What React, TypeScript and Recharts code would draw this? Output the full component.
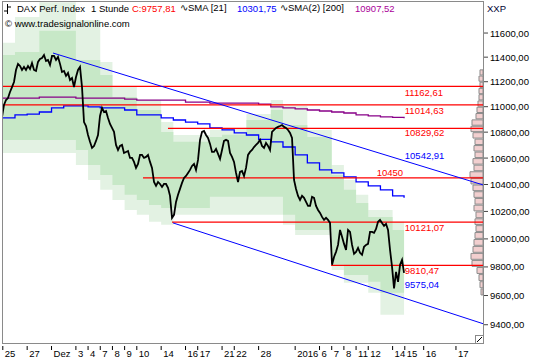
import React from "react";
import {
  ComposedChart,
  Line,
  Area,
  XAxis,
  YAxis,
  ReferenceLine,
  ReferenceArea,
  ReferenceDot,
} from "recharts";

// DAX hourly closes, one sample every ~1.4 trading hours, starting 25 Nov 2015
const closes = [
  10918, 11014, 11053, 11069, 11117, 11157, 11198, 11295, 11345, 11328,
  11295, 11320, 11295, 11328, 11303, 11352, 11295, 11287, 11361, 11385,
  11393, 11418, 11369, 11377, 11336, 11410, 11410, 11377, 11402, 11345,
  11279, 11287, 11247, 11271, 11214, 11230, 11157, 11238, 11295, 11320,
  11157, 10879, 10848, 10778, 10725, 10678, 10693, 10732, 10778, 10927,
  10990, 10958, 10966, 10911, 10864, 10833, 10802, 10701, 10662, 10693,
  10701, 10639, 10647, 10654, 10601, 10601, 10571, 10525, 10556, 10624,
  10624, 10601, 10609, 10624, 10571, 10525, 10419, 10390, 10419, 10404,
  10382, 10404, 10404, 10375, 10315, 10153, 10175, 10270, 10323, 10367,
  10412, 10449, 10464, 10487, 10510, 10540, 10556, 10510, 10586, 10740,
  10802, 10809, 10778, 10755, 10709, 10647, 10647, 10670, 10632, 10594,
  10662, 10732, 10740, 10732, 10639, 10609, 10571, 10487, 10419, 10495,
  10502, 10464, 10525, 10624, 10647, 10662, 10685, 10701, 10717, 10740,
  10693, 10678, 10717, 10693, 10662, 10802, 10817, 10833, 10841, 10848,
  10856, 10841, 10833, 10817, 10794, 10755, 10434, 10367, 10315, 10285,
  10315, 10300, 10270, 10241, 10241, 10308, 10300, 10241, 10211, 10189,
  10160, 10138, 10153, 10138, 10116, 9815, 9871, 9907, 9957, 10065,
  10015, 9964, 9921, 10065, 10051, 9957, 9893, 9907, 9935, 9900,
  9886, 9943, 9957, 9964, 10051, 10051, 10044, 10072, 10124, 10138,
  10116, 10094, 10109, 10065, 9921, 9800, 9650, 9765, 9695, 9815,
  9850, 9758,
];
const CLOSE_T0 = -0.066; // in trading days after 25 Nov
const CLOSE_STEP = 0.1642;

// daily values, one per session (last entry = end of data)
const sessions = [
  -0.066, 1, 2, 3, 4, 5, 6, 7, 8, 9, 10, 11, 12, 13, 14, 15, 16, 17, 18, 19,
  20, 21, 22, 23, 24, 25, 26, 27, 28, 29, 30, 31, 32, 32.94,
];
const sma21 = [
  10911, 10935, 10942, 10958, 10990, 11006, 11006, 10998, 10990, 10990,
  10974, 10935, 10935, 10911, 10895, 10879, 10864, 10833, 10817, 10794,
  10778, 10744, 10725, 10685, 10624, 10563, 10510, 10487, 10457, 10419,
  10390, 10360, 10315, 10302,
];
const sma200 = [
  11069, 11069, 11069, 11077, 11077, 11077, 11069, 11069, 11069, 11069,
  11061, 11053, 11053, 11053, 11053, 11037, 11037, 11029, 11029, 11029,
  11029, 11021, 10998, 10990, 10982, 10974, 10966, 10958, 10950, 10935,
  10927, 10919, 10915, 10908,
];
const outerTop = [
  11518, 11735, 11735, 11860, 11860, 11860, 11709, 11709, 11361, 11157,
  11157, 11053, 11053, 10879, 10778, 10778, 10778, 10817, 10833, 10833,
  10942, 10942, 11053, 11006, 11006, 10817, 10817, 10548, 10434, 10323,
  10211, 10211, 10124, 10124,
];
const innerTop = [
  11417, 11443, 11443, 11620, 11620, 11620, 11377, 11377, 11254, 11077,
  11077, 10974, 10974, 10801, 10725, 10725, 10725, 10763, 10780, 10780,
  10895, 10895, 10974, 10856, 10856, 10763, 10763, 10472, 10360, 10263,
  10160, 10160, 10065, 10065,
];
const innerBottom = [
  10740, 10740, 10740, 10740, 10740, 10740, 10662, 10548, 10472, 10397,
  10323, 10285, 10248, 10226, 10226, 10226, 10226, 10308, 10308, 10308,
  10308, 10308, 10308, 10175, 10065, 10065, 10065, 9815, 9744, 9744,
  9695, 9619, 9619, 9619,
];
const outerBottom = [
  10639, 10639, 10639, 10639, 10639, 10639, 10548, 10434, 10360, 10285,
  10211, 10175, 10124, 10102, 10175, 10175, 10175, 10175, 10175, 10175,
  10175, 10175, 10175, 10102, 10029, 10029, 10029, 9779, 9688, 9688,
  9619, 9468, 9468, 9468,
];

// x axis
const tickDays = [0, 2, 4, 6, 7, 8, 9, 10, 11, 13, 15, 16, 18, 19, 21, 24, 26, 27, 28, 29, 30, 32, 33, 34.55, 37.2];
const tickLabels = ["25", "27", "Dez", "3", "4", "7", "8", "9", "10", "14", "16", "17", "21", "22", "28", "2016", "6", "7", "8", "11", "12", "14", "15", "16", "17"];
const X_MIN = -0.066;
const X_MAX = 39.42;

// y axis
const priceTicks = [9400, 9600, 9800, 10000, 10200, 10400, 10600, 10800, 11000, 11200, 11400, 11600];

// horizontal support / resistance levels and where they start
const levels = [11162.61, 11014.63, 10829.62, 10450, 10121.07, 9810.47];
const levelFrom = [-0.066, -0.066, 13.56, 11.51, 13.89, 26.95];

// trend channel lines [t1, v1, t2, v2]
const trendUpper = [4.12, 11434, 39.42, 10397];
const trendLower = [13.97, 10116, 39.42, 9407];
const trendValues = [10542.91, 9575.04];

// volume profile (50 point bins)
const profileBins = [
  9600, 9650, 9700, 9750, 9800, 9850, 9900, 9950, 10000, 10050, 10100, 10150,
  10200, 10250, 10300, 10350, 10400, 10450, 10500, 10550, 10600, 10650, 10700,
  10750, 10800, 10850, 10900, 10950, 11000, 11050, 11100, 11150, 11200, 11250,
];
const profileVolume = [
  2, 3, 4, 6, 11, 12, 10, 9, 8, 7, 8, 7, 9, 8, 9, 10, 12, 13, 9, 10, 8, 9, 8,
  10, 12, 11, 7, 6, 5, 4, 4, 3, 4, 3,
];
const PROFILE_SCALE = 1 / 12.18;

const FONT = "'Liberation Sans', Arial, sans-serif";
const RED = "#ff0000";
const BLUE = "#0000ff";

const closeData = closes.map((v, i) => ({ t: CLOSE_T0 + i * CLOSE_STEP, v }));
const dailyData = sessions.map((t, i) => ({
  t,
  outer: [outerBottom[i], outerTop[i]],
  inner: [innerBottom[i], innerTop[i]],
  sma21: sma21[i],
  sma200: sma200[i],
}));

const fmt = (v: number) =>
  Number.isInteger(v) && v % 100 !== 0 ? String(v) : v.toFixed(2).replace(".", ",");

const XTick = (props: any) => {
  const { x, payload } = props;
  const label = tickLabels[tickDays.indexOf(payload.value)];
  return (
    <g>
      <line x1={x} x2={x} y1={346} y2={350} stroke="#000" />
      <text x={x + 2} y={357} fontSize={9.5} fontFamily={FONT} fill="#000">
        {label}
      </text>
    </g>
  );
};

const YTick = (props: any) => {
  const { y, payload } = props;
  return (
    <g>
      <line x1={484} x2={488} y1={y} y2={y} stroke="#444" />
      <text x={490} y={y + 3.5} fontSize={9.5} fontFamily={FONT} fill="#000">
        {payload.value.toFixed(2).replace(".", ",")}
      </text>
    </g>
  );
};

const labelShape = (text: string, color: string, dx: number, dy: number, anchor = "start") => (p: any) => (
  <text x={p.cx + dx} y={p.cy + dy} fontSize={9.5} fontFamily={FONT} fill={color} textAnchor={anchor}>
    {text}
  </text>
);

const levelDy = [10, 9, 8, -2, 9, 9];

export default function App() {
  return (
    <div style={{ position: "relative", width: 540, height: 360, background: "#fff", fontFamily: FONT }}>
      <style>{"body{margin:0}"}</style>
      <ComposedChart width={540} height={360} margin={{ top: 1, right: 0, left: 2, bottom: 0 }}>
        <XAxis
          type="number"
          dataKey="t"
          domain={[X_MIN, X_MAX]}
          allowDataOverflow
          ticks={tickDays}
          interval={0}
          tick={<XTick />}
          tickLine={false}
          axisLine={false}
          height={17}
        />
        <YAxis
          yAxisId="p"
          orientation="right"
          scale="log"
          domain={[9277, 11871]}
          allowDataOverflow
          ticks={priceTicks}
          interval={0}
          tick={<YTick />}
          tickLine={false}
          axisLine={false}
          width={57}
        />
        <Area yAxisId="p" data={dailyData} type="stepAfter" dataKey="outer" fill="#e3f2e3" fillOpacity={1} stroke="none" isAnimationActive={false} />
        <Area yAxisId="p" data={dailyData} type="stepAfter" dataKey="inner" fill="#c7e8c7" fillOpacity={1} stroke="none" isAnimationActive={false} />

        {profileBins.map((b, i) => (
          <ReferenceArea
            key={"pb" + i}
            yAxisId="p"
            x1={X_MAX - profileVolume[i] * PROFILE_SCALE}
            x2={X_MAX}
            y1={b + 4}
            y2={b + 46}
            fill="#f2cfcf"
            fillOpacity={1}
            stroke="#8c8c8c"
            strokeWidth={1}
          />
        ))}

        <Line yAxisId="p" data={dailyData} type="stepAfter" dataKey="sma200" stroke="#880088" strokeWidth={1.3} dot={false} isAnimationActive={false} />
        <Line yAxisId="p" data={dailyData} type="stepAfter" dataKey="sma21" stroke={BLUE} strokeWidth={1.3} dot={false} isAnimationActive={false} />

        {levels.map((v, i) => (
          <ReferenceLine
            key={"lv" + i}
            yAxisId="p"
            segment={[{ x: levelFrom[i], y: v }, { x: X_MAX, y: v }]}
            stroke={RED}
            strokeWidth={1.3}
          />
        ))}
        <ReferenceLine
          yAxisId="p"
          segment={[{ x: trendUpper[0], y: trendUpper[1] }, { x: trendUpper[2], y: trendUpper[3] }]}
          stroke={BLUE}
          strokeWidth={1}
        />
        <ReferenceLine
          yAxisId="p"
          segment={[{ x: trendLower[0], y: trendLower[1] }, { x: trendLower[2], y: trendLower[3] }]}
          stroke={BLUE}
          strokeWidth={1}
        />

        <Line yAxisId="p" data={closeData} type="linear" dataKey="v" stroke="#000" strokeWidth={1.8} dot={false} isAnimationActive={false} />

        {levels.map((v, i) => (
          <ReferenceDot
            key={"ll" + i}
            yAxisId="p"
            x={v === 10450 ? 32.86 : 33.0}
            y={v}
            shape={labelShape(fmt(v), RED, 0, levelDy[i], v === 10450 ? "end" : "start")}
          />
        ))}
        <ReferenceDot yAxisId="p" x={33.0} y={trendValues[0]} shape={labelShape(fmt(trendValues[0]), BLUE, 0, -6.5)} />
        <ReferenceDot yAxisId="p" x={33.0} y={trendValues[1]} shape={labelShape(fmt(trendValues[1]), BLUE, 0, -11)} />
      </ComposedChart>

      {/* plot frame */}
      <div style={{ position: "absolute", left: 2, top: 1, width: 482, height: 343, boxSizing: "border-box", border: "1px solid #8a8a8a", pointerEvents: "none" }} />
      <svg style={{ position: "absolute", left: 475, top: 335, pointerEvents: "none" }} width={9} height={9}>
        <rect x={0.5} y={0.5} width={8} height={8} fill="#fff" stroke="#8a8a8a" />
        <line x1={2} y1={7} x2={7} y2={2} stroke="#000" />
      </svg>

      {/* header */}
      <div style={{ position: "absolute", left: 0, top: 0, fontSize: 9.5, lineHeight: "11px", whiteSpace: "pre", color: "#000" }}>
        <svg style={{ position: "absolute", left: 4, top: 4 }} width={7} height={10}>
          <line x1={3.5} y1={0} x2={3.5} y2={10} stroke="#000" />
          <line x1={0} y1={7} x2={3.5} y2={7} stroke="#000" />
          <line x1={3.5} y1={3} x2={7} y2={3} stroke="#000" />
        </svg>
        <span style={{ position: "absolute", left: 17, top: 3 }}>DAX Perf. Index</span>
        <span style={{ position: "absolute", left: 91, top: 3 }}>1 Stunde</span>
        <span style={{ position: "absolute", left: 132, top: 3, color: RED }}>C:9757,81</span>
        <span style={{ position: "absolute", left: 180, top: 2 }}>∿SMA [21]</span>
        <span style={{ position: "absolute", left: 237, top: 3, color: BLUE }}>10301,75</span>
        <span style={{ position: "absolute", left: 280, top: 2 }}>∿SMA(2) [200]</span>
        <span style={{ position: "absolute", left: 355, top: 3, color: "#aa0099" }}>10907,52</span>
        <span style={{ position: "absolute", left: 5, top: 18 }}>© www.tradesignalonline.com</span>
        <span style={{ position: "absolute", left: 487, top: 3, color: "#000033" }}>XXP</span>
      </div>
    </div>
  );
}
